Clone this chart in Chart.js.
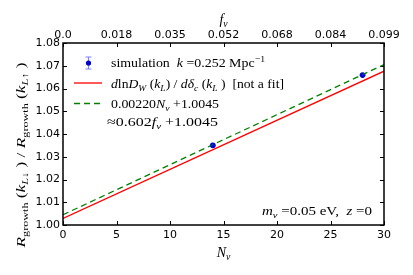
<!DOCTYPE html>
<html>
<head>
<meta charset="utf-8">
<script src="https://cdn.jsdelivr.net/npm/chart.js@4.4.1/dist/chart.umd.min.js"></script>
<style>
  html, body { margin: 0; padding: 0; background: #fff; }
  canvas { display: block; }
</style>
</head>
<body>
<canvas id="growthChart" width="413" height="275"></canvas>
<script>
// values
var lineNu = [0, 30];
var theoryRatio = [1.0029, 1.0676];
var fitRatio = [1.0045, 1.0705];
var simNu = [14, 28];
var simRatio = [1.0350, 1.0659];
var simErr = [0.0002, 0.0002];
var fnuLabels = ["0.0", "0.018", "0.035", "0.052", "0.068", "0.084", "0.099"];

var SERIF = "'Liberation Serif', 'DejaVu Serif', serif";
var SANS = "'DejaVu Sans', sans-serif";

function toPoints(xs, ys) {
  return xs.map(function (x, i) { return { x: x, y: ys[i] }; });
}

// segments: {t, i (italic), sub, sup}
function richWidth(ctx, segs, size) {
  var w = 0;
  segs.forEach(function (s) {
    var sz = (s.sub || s.sup) ? size * 0.7 : size;
    ctx.font = (s.i ? "italic " : "") + sz + "px " + SERIF;
    w += ctx.measureText(s.t).width;
  });
  return w;
}

// draws mixed text starting at x (or ending at x when right aligned),
// stretched horizontally so it spans "target" pixels like the mathtext in the original
function drawRich(ctx, segs, x, y, size, align, target) {
  var w = richWidth(ctx, segs, size);
  var sx = target ? target / w : 1;
  var full = w * sx;
  var start = x;
  if (align === "right") start = x - full;
  if (align === "center") start = x - full / 2;
  ctx.save();
  ctx.translate(start, y);
  ctx.scale(sx, 1);
  ctx.textBaseline = "alphabetic";
  ctx.textAlign = "left";
  var cx = 0;
  segs.forEach(function (s) {
    var sz = (s.sub || s.sup) ? size * 0.7 : size;
    ctx.font = (s.i ? "italic " : "") + sz + "px " + SERIF;
    var dy = s.sub ? size * 0.22 : (s.sup ? -size * 0.42 : 0);
    ctx.fillText(s.t, cx, dy);
    cx += ctx.measureText(s.t).width;
  });
  ctx.restore();
}

var decorPlugin = {
  id: "decor",
  beforeDatasetsDraw: function (chart) {
    var ctx = chart.ctx;
    var a = chart.chartArea;
    var xs = chart.scales.x;
    var ys = chart.scales.y;
    ctx.save();
    ctx.strokeStyle = "#000";
    ctx.lineWidth = 1;
    // inward ticks
    for (var v = 0; v <= 30; v += 5) {
      var px = Math.round(xs.getPixelForValue(v)) + 0.5;
      ctx.beginPath();
      ctx.moveTo(px, a.bottom); ctx.lineTo(px, a.bottom - 4);
      ctx.moveTo(px, a.top); ctx.lineTo(px, a.top + 4);
      ctx.stroke();
    }
    for (var k = 0; k <= 8; k++) {
      var py = Math.round(ys.getPixelForValue(1 + k * 0.01)) + 0.5;
      ctx.beginPath();
      ctx.moveTo(a.left, py); ctx.lineTo(a.left + 4, py);
      ctx.moveTo(a.right, py); ctx.lineTo(a.right - 4, py);
      ctx.stroke();
    }
    ctx.restore();
  },
  afterDatasetsDraw: function (chart) {
    var ctx = chart.ctx;
    var a = chart.chartArea;
    var xs = chart.scales.x;
    var ys = chart.scales.y;
    ctx.save();
    // error bars on the simulation points
    ctx.strokeStyle = "rgba(0,0,255,0.5)";
    ctx.lineWidth = 1;
    simNu.forEach(function (n, i) {
      var px = xs.getPixelForValue(n);
      var y0 = ys.getPixelForValue(simRatio[i] - simErr[i]);
      var y1 = ys.getPixelForValue(simRatio[i] + simErr[i]);
      ctx.beginPath();
      ctx.moveTo(px, y0); ctx.lineTo(px, y1);
      ctx.moveTo(px - 3, y0); ctx.lineTo(px + 3, y0);
      ctx.moveTo(px - 3, y1); ctx.lineTo(px + 3, y1);
      ctx.stroke();
    });
    // frame
    ctx.strokeStyle = "#000";
    ctx.lineWidth = 1.5;
    ctx.strokeRect(a.left, a.top, a.right - a.left, a.bottom - a.top);

    // legend
    var fs = 13;
    var tx = 111;
    // handle 1: errorbar
    ctx.strokeStyle = "rgba(0,0,255,0.5)";
    ctx.lineWidth = 1.2;
    ctx.beginPath();
    ctx.moveTo(88.5, 57); ctx.lineTo(88.5, 69);
    ctx.moveTo(85.5, 57); ctx.lineTo(91.5, 57);
    ctx.moveTo(85.5, 69); ctx.lineTo(91.5, 69);
    ctx.stroke();
    ctx.fillStyle = "#0000cc";
    ctx.beginPath(); ctx.arc(88.5, 63, 2.6, 0, Math.PI * 2); ctx.fill();
    // handle 2: red line
    ctx.strokeStyle = "#ff0000";
    ctx.lineWidth = 1.3;
    ctx.beginPath(); ctx.moveTo(74, 83); ctx.lineTo(102, 83); ctx.stroke();
    // handle 3: green dashed
    ctx.strokeStyle = "#008000";
    ctx.setLineDash([6, 4]);
    ctx.beginPath(); ctx.moveTo(74, 103.5); ctx.lineTo(104, 103.5); ctx.stroke();
    ctx.setLineDash([]);

    ctx.fillStyle = "#000";
    drawRich(ctx, [{ t: "simulation  " }, { t: "k", i: 1 }, { t: " =0.252 Mpc" }, { t: "\u22121", sup: 1 }], tx, 67, fs, "left", 154);
    drawRich(ctx, [{ t: "d", i: 1 }, { t: "ln" }, { t: "D", i: 1 }, { t: "W", i: 1, sub: 1 }, { t: " (" }, { t: "k", i: 1 },
      { t: "L", i: 1, sub: 1 }, { t: ") / " }, { t: "d\u03b4", i: 1 }, { t: "c", i: 1, sub: 1 }, { t: " (" }, { t: "k", i: 1 },
      { t: "L", i: 1, sub: 1 }, { t: " )  [not a fit]" }], tx, 88, fs, "left", 173);
    drawRich(ctx, [{ t: "0.00220" }, { t: "N", i: 1 }, { t: "\u03bd", i: 1, sub: 1 }, { t: " +1.0045" }], tx, 108, fs, "left", 108);
    drawRich(ctx, [{ t: "\u22480.602" }, { t: "f", i: 1 }, { t: "\u03bd", i: 1, sub: 1 }, { t: " +1.0045" }], 107, 126, fs, "left", 111);

    // annotation bottom right
    drawRich(ctx, [{ t: "m", i: 1 }, { t: "\u03bd", i: 1, sub: 1 }, { t: " =0.05 eV,  " }, { t: "z", i: 1 }, { t: " =0" }], 372, 215, fs, "right", 110);

    // axis titles
    drawRich(ctx, [{ t: "N", i: 1 }, { t: "\u03bd", i: 1, sub: 1 }], (a.left + a.right) / 2, 257, 14, "center");
    drawRich(ctx, [{ t: "f", i: 1 }, { t: "\u03bd", i: 1, sub: 1 }], (a.left + a.right) / 2, 24, 14, "center");
    ctx.save();
    ctx.translate(25, 155);
    ctx.rotate(-Math.PI / 2);
    drawRich(ctx, [{ t: "R", i: 1 }, { t: "growth", sub: 1 }, { t: " (" }, { t: "k", i: 1 }, { t: "L\u2193", i: 1, sub: 1 },
      { t: " ) / " }, { t: "R", i: 1 }, { t: "growth", sub: 1 }, { t: " (" }, { t: "k", i: 1 }, { t: "L\u2191", i: 1, sub: 1 },
      { t: " )" }], 0, 0, 13, "center", 185);
    ctx.restore();
    ctx.restore();
  }
};

new Chart(document.getElementById("growthChart"), {
  type: "line",
  data: {
    datasets: [
      {
        label: "dlnD_W/ddelta_c",
        data: toPoints(lineNu, theoryRatio),
        borderColor: "#ff0000",
        borderWidth: 1.3,
        pointRadius: 0,
        fill: false
      },
      {
        label: "fit",
        data: toPoints(lineNu, fitRatio),
        borderColor: "#008000",
        borderWidth: 1.3,
        borderDash: [6, 4],
        pointRadius: 0,
        fill: false
      },
      {
        label: "simulation",
        data: toPoints(simNu, simRatio),
        showLine: false,
        pointRadius: 2.8,
        pointBackgroundColor: "#0000cc",
        pointBorderColor: "#0000cc",
        pointBorderWidth: 0
      }
    ]
  },
  options: {
    responsive: false,
    devicePixelRatio: 1,
    animation: false,
    layout: { padding: { left: 0, right: 29, top: 0, bottom: 0 } },
    plugins: { legend: { display: false }, tooltip: { enabled: false } },
    scales: {
      x: {
        type: "linear",
        position: "bottom",
        min: 0,
        max: 30,
        grid: { display: false, drawTicks: false },
        border: { display: false },
        ticks: {
          stepSize: 5,
          padding: 4,
          color: "#000",
          maxRotation: 0,
          font: { family: SANS, size: 11 }
        },
        afterFit: function (s) { s.height = 50; }
      },
      xTop: {
        type: "linear",
        position: "top",
        min: 0,
        max: 30,
        grid: { display: false, drawTicks: false },
        border: { display: false },
        ticks: {
          stepSize: 5,
          padding: 1,
          color: "#000",
          maxRotation: 0,
          font: { family: SANS, size: 11 },
          callback: function (v) { return fnuLabels[Math.round(v / 5)]; }
        },
        afterFit: function (s) { s.height = 43; }
      },
      y: {
        type: "linear",
        min: 1.0,
        max: 1.08,
        grid: { display: false, drawTicks: false },
        border: { display: false },
        ticks: {
          stepSize: 0.01,
          padding: 3,
          color: "#000",
          font: { family: SANS, size: 11 },
          callback: function (v) { return v.toFixed(2); }
        },
        afterFit: function (s) { s.width = 63; }
      }
    }
  },
  plugins: [decorPlugin]
});
</script>
</body>
</html>
